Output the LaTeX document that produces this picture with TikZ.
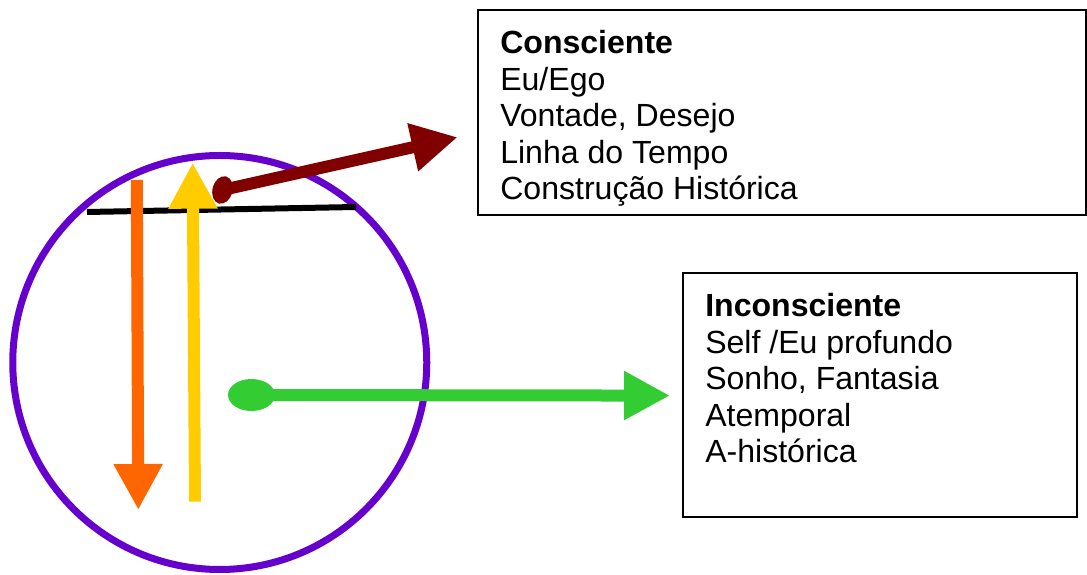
\documentclass[tikz,border=0pt]{standalone}
\usepackage{fontspec}
\setmainfont{Liberation Sans}
\usepackage{xcolor}
\usepackage{tikz}
\usetikzlibrary{shapes,arrows.meta,positioning}
\definecolor{psychepurple}{RGB}{102,0,204}
\definecolor{egoorange}{RGB}{255,102,0}
\definecolor{selfyellow}{RGB}{255,204,0}
\definecolor{timered}{RGB}{128,0,0}
\definecolor{dreamgreen}{RGB}{51,204,51}

\begin{document}
\begin{tikzpicture}[
    tbox/.style={rectangle, draw, line width=1.4pt, minimum width=#1, inner sep=0pt, outer sep=0pt, anchor=north west},
    ttext/.style={anchor=north west, inner sep=0pt, align=left, font=\fontsize{22.8}{26}\selectfont},
    dot/.style={ellipse, inner sep=0pt, outer sep=0pt},
    bigarrow/.style={line width=0.3cm, -{Triangle[length=1.15cm, width=1.15cm]}}
]
\useasboundingbox (0,0) rectangle (27.175,14.35);

% === PSYCHE (circle) ===
\node[circle, draw=psychepurple, line width=0.175cm, minimum size=10.35cm, inner sep=0pt] (psyche) at (5.494, 5.2875) {};

\coordinate (line_left) at (2.175, 9.05);
\coordinate (line_right) at (8.9, 9.175);
\draw[line width=0.15cm] (line_left) -- (line_right);

% === TEXT BOXES ===
\node[tbox=15.2cm, minimum height=5.125cm] (con_box) at (11.95, 14.1) {};
\node[ttext, below right=0.5cm and 0.55cm of con_box.north west] (con_text) {\textbf{Consciente}\\Eu/Ego\\Vontade, Desejo\\Linha do Tempo\\Construção Histórica};

\node[tbox=9.85cm, minimum height=6.1cm] (incon_box) at (17.075, 7.525) {};
\node[ttext, below right=0.5cm and 0.55cm of incon_box.north west] (incon_text) {\textbf{Inconsciente}\\Self /Eu profundo\\Sonho, Fantasia\\Atemporal\\A-histórica};

% === ARROWS ===
\coordinate (down_start) at (3.42, 9.85);
\coordinate (down_tip) at (3.458, 1.6);
\draw[bigarrow, color=egoorange] (down_start) -- (down_tip);

\coordinate (up_start) at (4.875, 1.808);
\coordinate (up_tip) at (4.817, 10.283);
\draw[bigarrow, color=selfyellow] (up_start) -- (up_tip);

\node[dot, fill=timered, minimum width=0.5cm, minimum height=0.7cm, rotate=-15] (con_dot) at (5.5625, 9.6) {};
\coordinate (con_tip) at (11.44, 10.92);
\draw[bigarrow, color=timered] (con_dot.center) -- (con_tip);

\node[dot, fill=dreamgreen, minimum width=1.175cm, minimum height=0.8cm] (incon_dot) at (6.2875, 4.475) {};
\coordinate (incon_tip) at (16.75, 4.46);
\draw[bigarrow, color=dreamgreen] (incon_dot.center) -- (incon_tip);

\end{tikzpicture}
\end{document}
